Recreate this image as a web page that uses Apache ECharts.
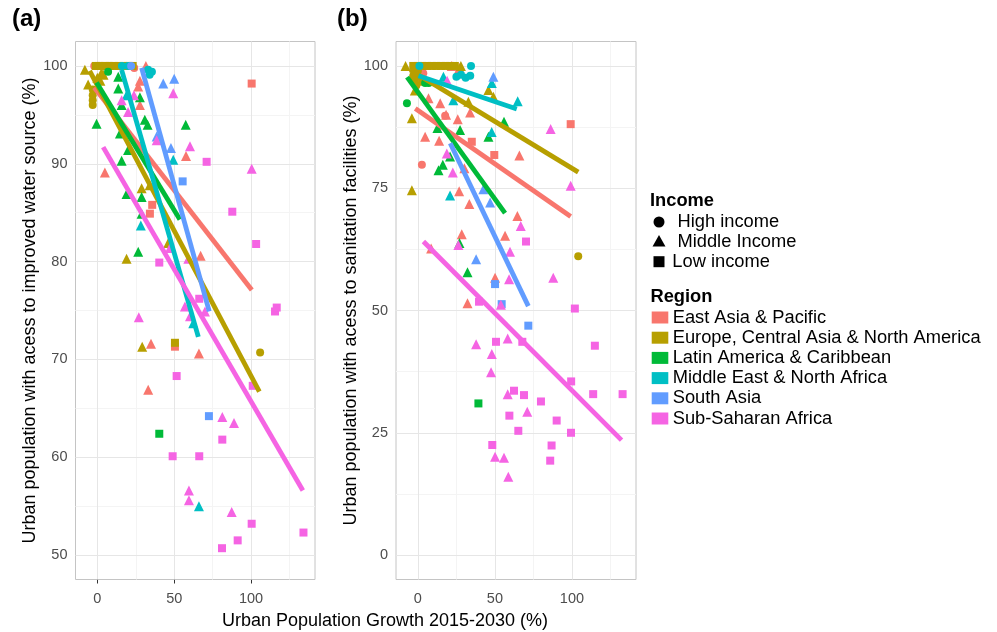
<!DOCTYPE html>
<html><head><meta charset="utf-8">
<script src="https://cdn.jsdelivr.net/npm/echarts@6/dist/echarts.min.js"></script>
<style>html,body{margin:0;padding:0;background:#fff}#c{width:997px;height:632px}</style>
</head><body><div id="c"></div><script>
// ---------- labels ----------
const regions = ['East Asia & Pacific','Europe, Central Asia & North America','Latin America & Caribbean','Middle East & North Africa','South Asia','Sub-Saharan Africa'];
const incomes = ['High income','Middle Income','Low income'];
const xTitle = 'Urban Population Growth 2015-2030 (%)';
const yTitleA = 'Urban population with acess to improved water source (%)';
const yTitleB = 'Urban population with acess to sanitation facilities (%)';
// ---------- ticks ----------
const xTicks = [0, 50, 100];
const xMinor = [25, 75, 125];
const yTicksA = [50, 60, 70, 80, 90, 100];
const yMinorA = [55, 65, 75, 85, 95];
const yTicksB = [0, 25, 50, 75, 100];
const yMinorB = [12.5, 37.5, 62.5, 87.5];
// ---------- points [growth, access, incomeIndex] ----------
const waterEAP = [[-2,100,0],[1,100,2],[4,100,0],[7,100,2],[10,100,0],[21,100,2],[24,99.8,0],[26.6,97.9,1],[27.7,96.0,1],[27.7,98.5,1],[31.6,100,1],[4.9,89.1,1],[57.7,90.8,1],[100.4,98.2,2],[35.7,85.8,2],[34.2,84.9,2],[67.2,80.6,1],[34.9,71.6,1],[50.5,71.3,2],[66.1,70.6,1],[33.1,66.9,1]];
const waterECA = [[-8.1,99.6,1],[-6,98.1,1],[-3,97.6,0],[-3,97,0],[-3,96.5,0],[-3,96,0],[-2,97.5,0],[-1,100,2],[2,100,2],[5,100,2],[8,100,2],[11,100,2],[14,100,2],[17,100,2],[20,100,2],[23,100,2],[0,98.8,1],[2,98.5,1],[4,99.1,1],[2.7,99.3,1],[28.8,87.5,1],[34,87.8,1],[19,80.3,1],[46.1,81.9,1],[29.2,71.3,1],[50.5,71.7,2],[105.9,70.7,0]];
const waterLAC = [[-0.5,94.1,1],[13.6,98.9,1],[13.6,97.7,1],[15.8,96.0,1],[27.7,96.8,1],[30.9,94.5,1],[32.7,94.0,1],[57.5,94.0,1],[14.7,93.1,1],[20,91.4,1],[15.8,90.3,1],[28.8,86.6,1],[19,86.9,1],[28.8,84.9,1],[26.6,81.0,1],[40.3,62.4,2],[7,99.4,0]];
const waterMENA = [[16,100,0],[20,100,0],[33,99.6,0],[34,99.1,0],[35.5,99.4,0],[19,97,1],[49.4,90.4,1],[28.3,83.7,1],[62.4,73.7,1],[66.1,55.0,1]];
const waterSA = [[22,100,0],[42.9,98.2,1],[50.0,98.7,1],[38.6,92.8,1],[47.9,91.6,1],[55.5,88.2,2],[72.6,64.2,2]];
const waterSSA = [[100.4,89.5,1],[71.1,90.2,2],[87.8,85.1,2],[49.4,97.2,1],[60.3,91.8,1],[38.6,92.4,1],[15.8,96.5,1],[20,95.3,1],[23.8,97,1],[103.3,81.8,2],[40.3,79.9,2],[47.2,81.4,1],[59.2,80.3,1],[66.3,76.2,2],[57,75.4,1],[60.3,74.4,1],[70,74.9,1],[27,74.3,1],[115.6,74.9,2],[116.7,75.3,2],[51.6,68.3,2],[101.1,67.3,2],[81.3,64.1,1],[88.9,63.5,1],[81.3,61.8,2],[49,60.1,2],[66.3,60.1,2],[59.6,56.6,1],[59.6,55.6,1],[87.4,54.4,1],[100.4,53.2,2],[91.3,51.5,2],[81.1,50.7,2],[134.1,52.3,2]];

const sanEAP = [[-2,100,0],[2,100,0],[5,100,0],[22,100,1],[27,99.6,1],[3.5,98.5,0],[4.7,85.5,1],[14.5,92.4,1],[6.9,93.4,1],[13.8,84.7,1],[25.9,89.1,1],[18.3,90.0,1],[17.7,89.8,0],[2.6,79.8,0],[33.9,90.5,1],[35,84.5,2],[49.6,81.8,2],[65.9,81.7,1],[99.2,88.1,2],[30.2,79.1,1],[26.8,74.4,1],[33.4,71.8,1],[64.6,69.3,1],[28.5,65.6,1],[56.6,65.3,1],[8.6,62.7,1],[50.1,56.7,1],[32.2,51.5,1]];
const sanECA = [[-8,100,1],[27.9,100,1],[-3,100,2],[0,100,2],[3,100,2],[6,100,2],[9,100,2],[12,100,2],[15,100,2],[18,100,2],[21,100,2],[24,100,2],[-3,98,0],[-2,97,0],[-1,96,0],[0,99,0],[1,98,1],[-2,95,1],[2,97,1],[-3.9,89.3,1],[-3.9,74.6,1],[45.8,95.1,1],[49,93.7,1],[32.8,92.7,1],[104.1,61.1,0]];
const sanLAC = [[-7.1,92.4,0],[4.7,96.5,0],[7,96.5,0],[55.9,88.6,1],[45.8,85.5,1],[27.4,86.9,1],[12.7,87.3,1],[16.2,79.8,1],[13.4,78.7,1],[20.9,81.5,1],[32.2,57.8,1],[39.3,31.0,2],[27,63.8,1]];
const sanMENA = [[1,100,0],[34.5,100,0],[25,97.8,0],[28,98.2,0],[31,97.6,0],[34,98.0,0],[16.6,97.8,1],[23,93,1],[48,96.5,1],[64.8,92.8,1],[47.9,86.5,1],[20.9,73.5,1]];
const sanSA = [[49,97.8,1],[42.5,74.8,1],[46.9,72.1,1],[37.8,60.5,1],[50.1,55.4,2],[54.4,51.3,2],[71.7,46.9,2]];
const sanSSA = [[19,97,1],[86.2,87.1,1],[99.2,75.5,1],[18.8,82.1,1],[22.7,78.2,1],[66.8,67.3,1],[70.2,64.1,2],[26.3,63.4,1],[59.8,62.0,1],[59.2,56.4,1],[87.9,56.7,1],[39.7,51.8,2],[53.9,51.2,1],[101.9,50.4,2],[37.8,43.1,1],[50.7,43.6,2],[58.3,44.3,1],[67.8,43.6,2],[114.9,42.8,2],[48,41.1,1],[47.5,37.4,1],[99.5,35.5,2],[58.3,32.9,1],[62.4,33.6,2],[68.9,32.7,2],[79.9,31.4,2],[113.8,32.9,2],[132.9,32.9,2],[71,29.3,1],[59.4,28.5,2],[90.1,27.5,2],[65.2,25.4,2],[99.4,25.0,2],[48.3,22.5,2],[86.8,22.4,2],[50.1,20.1,1],[55.9,19.9,1],[85.9,19.3,2],[58.7,16.0,1]];
// ---------- linear fit endpoints ----------
const waterFitEAP = [[-2,97.8],[100.5,77.1]];
const waterFitECA = [[-5,99.5],[105.4,66.7]];
const waterFitLAC = [[-0.5,98.3],[53.7,84.3]];
const waterFitMENA = [[15.8,99.6],[65.7,72.3]];
const waterFitSA = [[28.8,99.8],[72.8,74.9]];
const waterFitSSA = [[3.8,91.7],[133.7,56.6]];
const sanFitEAP = [[-1.7,91.3],[99.2,69.2]];
const sanFitECA = [[-5,99.2],[104.1,78.3]];
const sanFitLAC = [[-7,97.7],[56.6,69.9]];
const sanFitMENA = [[0.4,98.0],[64.2,91.2]];
const sanFitSA = [[21,84.2],[71.7,50.9]];
const sanFitSSA = [[3.6,64.1],[132.2,23.5]];

// ---------- styling ----------
const palette = ['#F8766D','#B79F00','#00BA38','#00BFC4','#619CFF','#F564E3'];
const FONT = "'Liberation Sans', Arial, Helvetica, sans-serif";
const shapes = ['circle','triangle','rect'];
const shapeSize = [8, 10, 8];
const xRange = [-14.2, 141.6];
const yRangeA = [47.5, 102.5];
const yRangeB = [-5, 105];

const panels = [
  {pts:[waterEAP,waterECA,waterLAC,waterMENA,waterSA,waterSSA], fits:[waterFitEAP,waterFitECA,waterFitLAC,waterFitMENA,waterFitSA,waterFitSSA], yr:yRangeA, yt:yTicksA, ym:yMinorA, name:yTitleA, left:75.5, width:239.5},
  {pts:[sanEAP,sanECA,sanLAC,sanMENA,sanSA,sanSSA], fits:[sanFitEAP,sanFitECA,sanFitLAC,sanFitMENA,sanFitSA,sanFitSSA], yr:yRangeB, yt:yTicksB, ym:yMinorB, name:yTitleB, left:396, width:240}
];

const grids = [], xAxes = [], yAxes = [], series = [];
function gridLines(pi, vals, dir, ext, color) {
  return {type:'lines', coordinateSystem:'cartesian2d', xAxisIndex:pi, yAxisIndex:pi, silent:true, z:1,
    lineStyle:{color:color, width:1, opacity:1, curveness:0},
    data: vals.map(v => ({coords: dir==='x' ? [[v, ext[0]],[v, ext[1]]] : [[ext[0], v],[ext[1], v]]}))};
}
panels.forEach((p, pi) => {
  grids.push({left:p.left, top:41.5, width:p.width, height:538, show:true, borderColor:'#c4c4c4', borderWidth:1, backgroundColor:'#fff'});
  xAxes.push({type:'value', gridIndex:pi, min:xRange[0], max:xRange[1], splitLine:{show:false}, axisLine:{show:false},
    axisTick:{show:true, customValues:xTicks, length:4, lineStyle:{color:'#333'}},
    axisLabel:{customValues:xTicks, color:'#4d4d4d', fontSize:14.5, fontFamily:FONT, margin:12}});
  yAxes.push({type:'value', gridIndex:pi, min:p.yr[0], max:p.yr[1], splitLine:{show:false}, axisLine:{show:false},
    axisTick:{show:true, customValues:p.yt, length:4, lineStyle:{color:'#333'}},
    axisLabel:{customValues:p.yt, color:'#4d4d4d', fontSize:14.5, fontFamily:FONT, margin:8},
    name:p.name, nameLocation:'middle', nameGap:36, nameTextStyle:{fontSize:18, color:'#000', fontFamily:FONT}});
  series.push(gridLines(pi, xMinor, 'x', p.yr, '#f4f4f4'));
  series.push(gridLines(pi, p.ym, 'y', xRange, '#f4f4f4'));
  series.push(gridLines(pi, xTicks, 'x', p.yr, '#e6e6e6'));
  series.push(gridLines(pi, p.yt, 'y', xRange, '#e6e6e6'));
  p.pts.forEach((arr, ri) => {
    [0,1,2].forEach(ii => {
      const d = arr.filter(q => q[2] === ii).map(q => [q[0], q[1]]);
      if (!d.length) return;
      series.push({type:'scatter', name:regions[ri] + ' / ' + incomes[ii], xAxisIndex:pi, yAxisIndex:pi, symbol:shapes[ii], symbolSize:shapeSize[ii],
        itemStyle:{color:palette[ri], opacity:1}, data:d, z:3, silent:true});
    });
  });
  p.fits.forEach((f, ri) => series.push({type:'line', name:regions[ri] + ' fit', xAxisIndex:pi, yAxisIndex:pi, data:f, symbol:'none',
    lineStyle:{color:palette[ri], width:4.8}, z:4, silent:true, animation:false}));
});

// ---------- legend & titles (graphic) ----------
const graphic = [];
graphic.push({type:'text', left:12, top:7, style:{text:'(a)', font:'bold 24px ' + FONT, fill:'#000'}});
graphic.push({type:'text', left:337, top:7, style:{text:'(b)', font:'bold 24px ' + FONT, fill:'#000'}});
graphic.push({type:'text', x:385, y:621, style:{text:xTitle, font:'18px ' + FONT, fill:'#000', align:'center', verticalAlign:'middle'}});
graphic.push({type:'text', x:650, y:201, style:{text:'Income', font:'bold 18.3px ' + FONT, fill:'#000', verticalAlign:'middle'}});
const incY = [222, 241.5, 261.7];
const incTextX = [677.5, 677.5, 672.3];
graphic.push({type:'circle', shape:{cx:659, cy:incY[0], r:5.5}, style:{fill:'#000'}});
graphic.push({type:'polygon', shape:{points:[[659, incY[1]-6.5],[665.5, incY[1]+5],[652.5, incY[1]+5]]}, style:{fill:'#000'}});
graphic.push({type:'rect', shape:{x:653.5, y:incY[2]-5.5, width:11, height:11}, style:{fill:'#000'}});
incomes.forEach((t, i) => graphic.push({type:'text', x:incTextX[i], y:incY[i], style:{text:t, font:'18.3px ' + FONT, fill:'#000', verticalAlign:'middle'}}));
graphic.push({type:'text', x:650.5, y:297, style:{text:'Region', font:'bold 18.3px ' + FONT, fill:'#000', verticalAlign:'middle'}});
regions.forEach((t, i) => {
  const cy = 317.5 + i * 20.2;
  graphic.push({type:'rect', shape:{x:651.7, y:cy-6, width:16.6, height:12}, style:{fill:palette[i]}});
  graphic.push({type:'text', x:672.7, y:cy, style:{text:t, font:'18.3px ' + FONT, fill:'#000', verticalAlign:'middle'}});
});

const chart = echarts.init(document.getElementById('c'), null, {renderer:'canvas'});
chart.setOption({animation:false, backgroundColor:'#fff', textStyle:{fontFamily:FONT}, grid:grids, xAxis:xAxes, yAxis:yAxes, series:series, graphic:graphic});
</script></body></html>
